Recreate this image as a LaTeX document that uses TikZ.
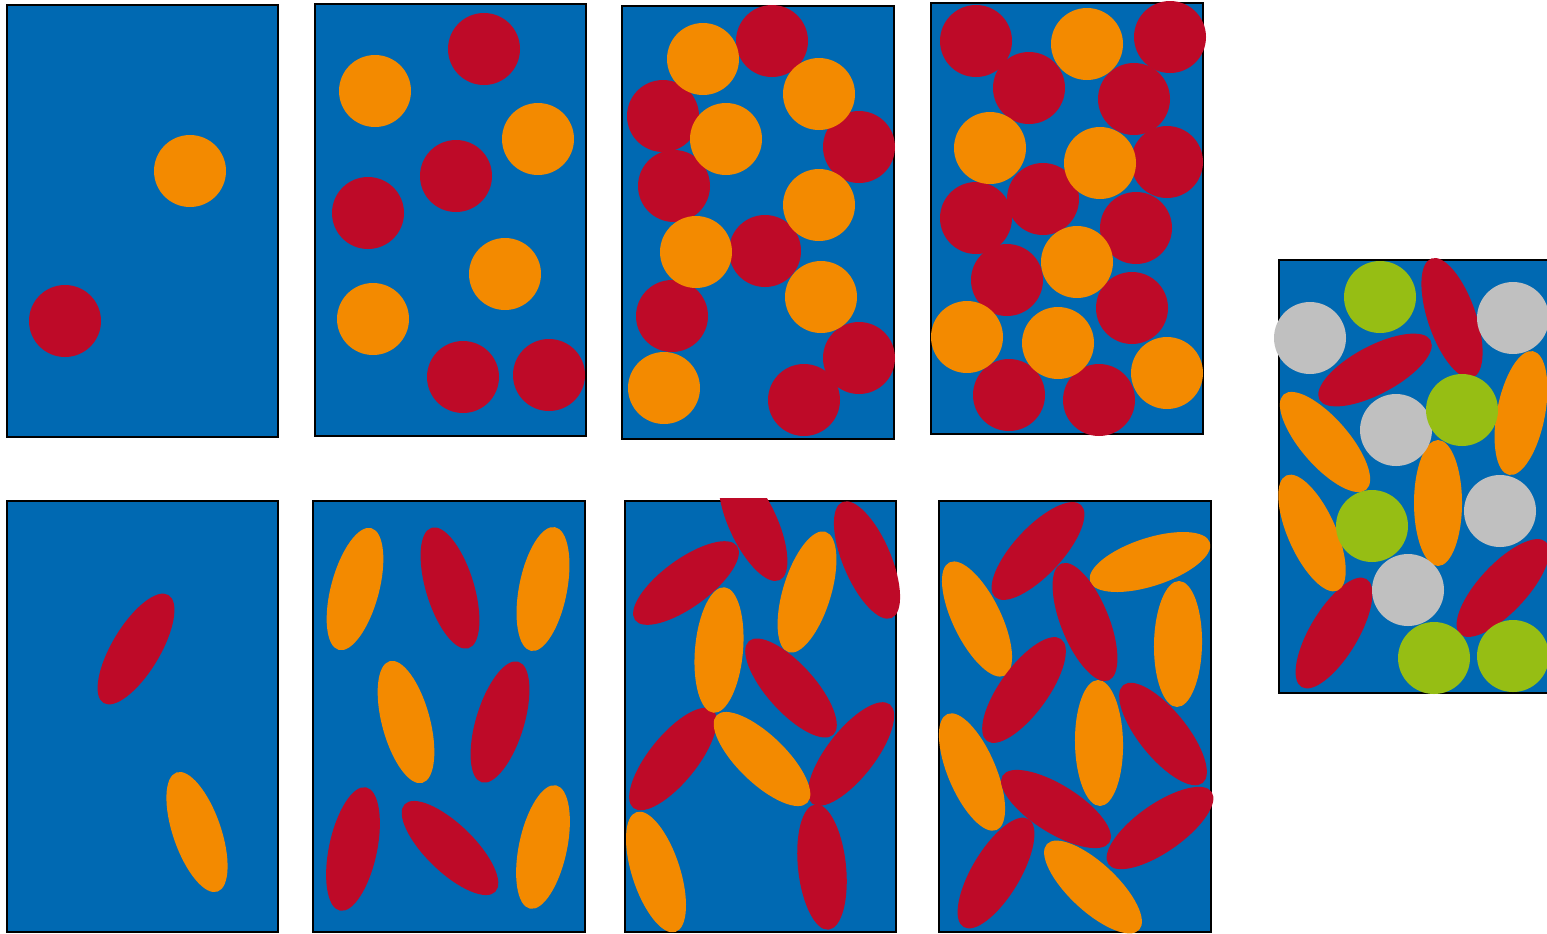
\documentclass[tikz,border=0pt]{standalone}
\definecolor{tankblue}{RGB}{0,105,178}
\definecolor{redgrain}{RGB}{190,10,40}
\definecolor{orangegrain}{RGB}{243,138,0}
\definecolor{greengrain}{RGB}{150,190,20}
\definecolor{greygrain}{RGB}{192,192,192}
\tikzset{
    box/.style={fill=tankblue,draw=black,line width=1pt},
}
\newcommand{\ballr}{36}
\newcommand{\rodlong}{63}
\newcommand{\rodshort}{24}

\begin{document}
\begin{tikzpicture}[x=0.5pt,y=-0.5pt]
        \useasboundingbox (0,0) rectangle (1547,933);

        % draw the boxes
        \draw[box] (7,5) rectangle (278,437);
        \draw[box] (315,4) rectangle (586,436);
        \draw[box] (622,6) rectangle (894,439);
        \draw[box] (931,3) rectangle (1203,434);
        \draw[box] (7,501) rectangle (278,932);
        \draw[box] (313,501) rectangle (585,932);
        \draw[box] (625,501) rectangle (896,932);
        \draw[box] (939,501) rectangle (1211,932);
        \draw[box] (1279,260) rectangle (1560,693);

        % top row: round grains
        \foreach \x/\y in {
            65/321, 484/49, 456/176, 368/213, 463/377, 549/375,
            772/41, 663/116, 859/147, 674/186, 765/251, 672/316, 859/358, 804/400,
            976/41, 1170/37, 1029/88, 1134/99, 1167/162, 976/218, 1043/199,
            1136/228, 1007/280, 1132/308, 1009/395, 1099/400}
                \fill[redgrain] (\x,\y) circle (\ballr);
        \foreach \x/\y in {
            190/171, 375/91, 538/139, 505/274, 373/319,
            703/59, 819/94, 726/139, 819/205, 696/252, 821/297, 664/388,
            1087/44, 990/148, 1100/163, 1077/262, 967/337, 1058/343, 1167/373}
                \fill[orangegrain] (\x,\y) circle (\ballr);

        % bottom row: long grains
        \foreach \x/\y/\a in {
            136/649/59, 450/588/107, 500/722/73, 353/849/78, 450/848/136}
                \fill[redgrain,rotate around={\a:(\x,\y)}] (\x,\y) ellipse [x radius=\rodlong,y radius=\rodshort];
        \foreach \x/\y/\a in {
            197/832/109, 355/589/75, 543/589/79, 406/722/105, 543/847/78,
            977/619/116, 1150/562/18, 1178/644/89, 1099/743/91, 972/772/113, 1093/887/137}
                \fill[orangegrain,rotate around={\a:(\x,\y)}] (\x,\y) ellipse [x radius=\rodlong,y radius=\rodshort];
        % reds of box 7 go under its oranges
        \begin{scope}
            \clip (600,498) rectangle (920,940);
            \fill[redgrain,rotate around={115:(753,523)}] (753,523) ellipse [x radius=\rodlong,y radius=\rodshort];
        \end{scope}
        \foreach \x/\y/\a in {
            686/583/36, 867/560/113, 791/688/132, 673/759/51, 851/754/52, 822/867/96,
            1038/551/47, 1085/622/112, 1024/690/54, 1163/734/129,
            1056/809/148, 1160/828/35, 996/873/59}
                \fill[redgrain,rotate around={\a:(\x,\y)}] (\x,\y) ellipse [x radius=\rodlong,y radius=\rodshort];
        \foreach \x/\y/\a in {
            719/650/85, 807/592/73, 762/759/136, 656/872/108}
                \fill[orangegrain,rotate around={\a:(\x,\y)}] (\x,\y) ellipse [x radius=\rodlong,y radius=\rodshort];

        % the mixed box
        \foreach \x/\y/\a in {
            1452/318/109, 1375/370/28, 1503/588/47, 1334/633/59}
                \fill[redgrain,rotate around={\a:(\x,\y)}] (\x,\y) ellipse [x radius=\rodlong,y radius=\rodshort];
        \foreach \x/\y/\a in {
            1325/442/131, 1521/413/79, 1438/503/90, 1312/533/114}
                \fill[orangegrain,rotate around={\a:(\x,\y)}] (\x,\y) ellipse [x radius=\rodlong,y radius=\rodshort];
        \foreach \x/\y in {1310/338, 1513/318, 1396/430, 1500/511, 1408/590}
                \fill[greygrain] (\x,\y) circle (\ballr);
        \foreach \x/\y in {1380/297, 1462/410, 1372/526, 1434/658, 1513/656}
                \fill[greengrain] (\x,\y) circle (\ballr);
\end{tikzpicture}
\end{document}
